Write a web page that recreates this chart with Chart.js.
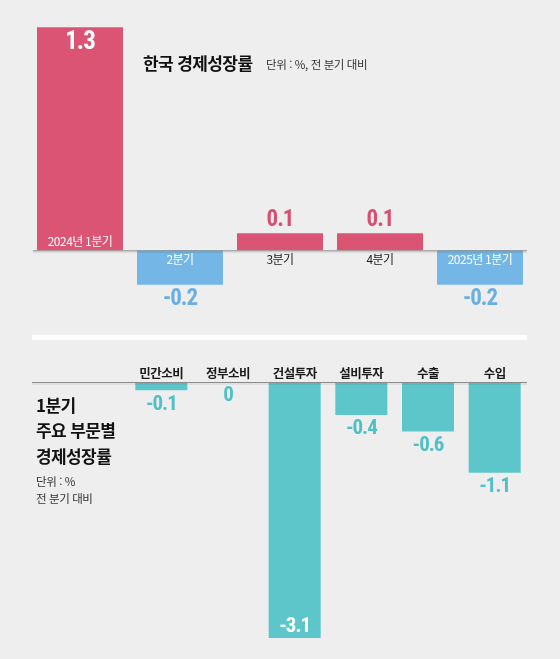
<!DOCTYPE html>
<html lang="ko">
<head>
<meta charset="utf-8">
<script src="https://cdn.jsdelivr.net/npm/chart.js@4.4.1/dist/chart.umd.min.js"></script>
<style>
  html, body { margin: 0; padding: 0; background: #eeeeee; }
  body { width: 560px; height: 659px; position: relative; overflow: hidden;
         font-family: "Noto Sans CJK KR", "Noto Sans", sans-serif; color: #111; }
  .box { position: absolute; }
  #top { left: 0; top: 0; width: 560px; height: 320px; }
  #bottom { left: 0; top: 320px; width: 560px; height: 339px; }
  .t { position: absolute; white-space: nowrap; line-height: 20px; }
  .title { left: 143px; top: 53px; font-size: 17px; font-weight: 700; letter-spacing: -0.6px; }
  .unit { left: 266px; top: 54px; font-size: 11.5px; color: #333; letter-spacing: -0.4px; }
  .sep { position: absolute; left: 32px; top: 335px; width: 495px; height: 5px; background: #ffffff; }
  .side { left: 36px; font-size: 17px; font-weight: 700; letter-spacing: -0.6px; }
  .sideUnit { left: 36px; font-size: 11.5px; color: #333; letter-spacing: -0.4px; }
</style>
</head>
<body>
<div class="box" id="top"><canvas id="graficoTrimestre"></canvas></div>
<div class="sep"></div>
<div class="box" id="bottom"><canvas id="graficoSector"></canvas></div>

<div class="t title">한국 경제성장률</div>
<div class="t unit">단위 : %, 전 분기 대비</div>

<div class="t side" style="top:395px">1분기</div>
<div class="t side" style="top:420px">주요 부문별</div>
<div class="t side" style="top:446px">경제성장률</div>
<div class="t sideUnit" style="top:471px">단위 : %</div>
<div class="t sideUnit" style="top:488px">전 분기 대비</div>

<script>
// Datos
const trimestres = ['2024년 1분기', '2분기', '3분기', '4분기', '2025년 1분기'];
const crecimientoTrimestre = [1.3, -0.2, 0.1, 0.1, -0.2];

const sectores = ['민간소비', '정부소비', '건설투자', '설비투자', '수출', '수입'];
const crecimientoSector = [-0.1, 0, -3.1, -0.4, -0.6, -1.1];

// Colores
const ROSA = '#db5474';
const AZUL = '#74b7e7';
const TURQUESA = '#5cc6cb';
const ROSA_TXT = '#d94f70';
const AZUL_TXT = '#6aafe3';
const TURQUESA_TXT = '#4fc0c6';

const fuenteNum = '"Roboto Condensed", "Liberation Sans Narrow", Roboto, sans-serif';
const fuenteKr = '"Noto Sans CJK KR", "Noto Sans", sans-serif';

Chart.defaults.animation = false;

function lineaBase(ctx, y, x1, x2) {
    ctx.save();
    ctx.fillStyle = 'rgba(0,0,0,0.06)';
    ctx.fillRect(x1, y + 1, x2 - x1, 2);
    ctx.strokeStyle = '#8a8a8a';
    ctx.lineWidth = 1;
    ctx.beginPath();
    ctx.moveTo(x1, y + 0.5);
    ctx.lineTo(x2, y + 0.5);
    ctx.stroke();
    ctx.restore();
}

function texto(ctx, str, x, y, font, color, spacing) {
    ctx.font = font;
    ctx.fillStyle = color;
    ctx.textAlign = 'center';
    ctx.textBaseline = 'middle';
    ctx.letterSpacing = spacing || '0px';
    ctx.fillText(str, x, y);
}

const etiquetasTrimestre = {
    id: 'etiquetasTrimestre',
    afterDatasetsDraw(chart) {
        const ctx = chart.ctx;
        const y0 = chart.scales.y.getPixelForValue(0);
        lineaBase(ctx, y0, 33, 527);
        const meta = chart.getDatasetMeta(0);
        ctx.save();
        meta.data.forEach((bar, i) => {
            const v = crecimientoTrimestre[i];
            const alto = Math.abs(bar.base - bar.y);
            const val = v.toFixed(1);
            if (v > 0 && alto > 60) {
                texto(ctx, val, bar.x, bar.y + 16, 'bold 25px ' + fuenteNum, '#ffffff', '-1px');
                texto(ctx, trimestres[i], bar.x, y0 - 9, '12px ' + fuenteKr, '#ffffff', '-0.5px');
            } else if (v > 0) {
                texto(ctx, val, bar.x, bar.y - 13, 'bold 23px ' + fuenteNum, ROSA_TXT, '-1px');
                texto(ctx, trimestres[i], bar.x, y0 + 9, '12px ' + fuenteKr, '#222222', '-0.5px');
            } else {
                texto(ctx, val, bar.x, bar.y + 15, 'bold 23px ' + fuenteNum, AZUL_TXT, '-1px');
                texto(ctx, trimestres[i], bar.x, y0 + 9, '12px ' + fuenteKr, '#ffffff', '-0.5px');
            }
        });
        ctx.restore();
    }
};

const etiquetasSector = {
    id: 'etiquetasSector',
    afterDatasetsDraw(chart) {
        const ctx = chart.ctx;
        const y0 = chart.scales.y.getPixelForValue(0);
        lineaBase(ctx, y0, 32, 527);
        const meta = chart.getDatasetMeta(0);
        ctx.save();
        meta.data.forEach((bar, i) => {
            const v = crecimientoSector[i];
            const alto = Math.abs(bar.base - bar.y);
            texto(ctx, sectores[i], bar.x, y0 - 9, 'bold 12.5px ' + fuenteKr, '#1a1a1a', '-0.5px');
            const val = v === 0 ? '0' : v.toFixed(1);
            if (alto > 100) {
                texto(ctx, val, bar.x, bar.y - 11, 'bold 21px ' + fuenteNum, '#ffffff', '-1px');
            } else {
                texto(ctx, val, bar.x, Math.max(bar.y, bar.base) + 14, 'bold 21px ' + fuenteNum, TURQUESA_TXT, '-1px');
            }
        });
        ctx.restore();
    }
};

const ejesOcultos = {
    x: { display: false },
    y: { display: false }
};

function crearGraficoTrimestre() {
    const ctx = document.getElementById('graficoTrimestre').getContext('2d');
    return new Chart(ctx, {
        type: 'bar',
        data: {
            labels: trimestres,
            datasets: [{
                data: crecimientoTrimestre,
                backgroundColor: crecimientoTrimestre.map(v => v >= 0 ? ROSA : AZUL),
                borderWidth: 0,
                categoryPercentage: 1,
                barPercentage: 0.86
            }]
        },
        options: {
            responsive: true,
            maintainAspectRatio: false,
            layout: { padding: { top: 10, bottom: 1, left: 30, right: 30 } },
            scales: {
                x: { display: false },
                y: { display: false, min: -0.4, max: 1.4 }
            },
            plugins: { legend: { display: false }, tooltip: { enabled: false } }
        },
        plugins: [etiquetasTrimestre]
    });
}

function crearGraficoSector() {
    const ctx = document.getElementById('graficoSector').getContext('2d');
    return new Chart(ctx, {
        type: 'bar',
        data: {
            labels: sectores,
            datasets: [{
                data: crecimientoSector,
                backgroundColor: TURQUESA,
                borderWidth: 0,
                categoryPercentage: 1,
                barPercentage: 0.78
            }]
        },
        options: {
            responsive: true,
            maintainAspectRatio: false,
            layout: { padding: { top: 62, bottom: 4.4, left: 128, right: 32 } },
            scales: {
                x: { display: false },
                y: { display: false, min: -3.3, max: 0 }
            },
            plugins: { legend: { display: false }, tooltip: { enabled: false } }
        },
        plugins: [etiquetasSector]
    });
}

crearGraficoTrimestre();
crearGraficoSector();
</script>
</body>
</html>
